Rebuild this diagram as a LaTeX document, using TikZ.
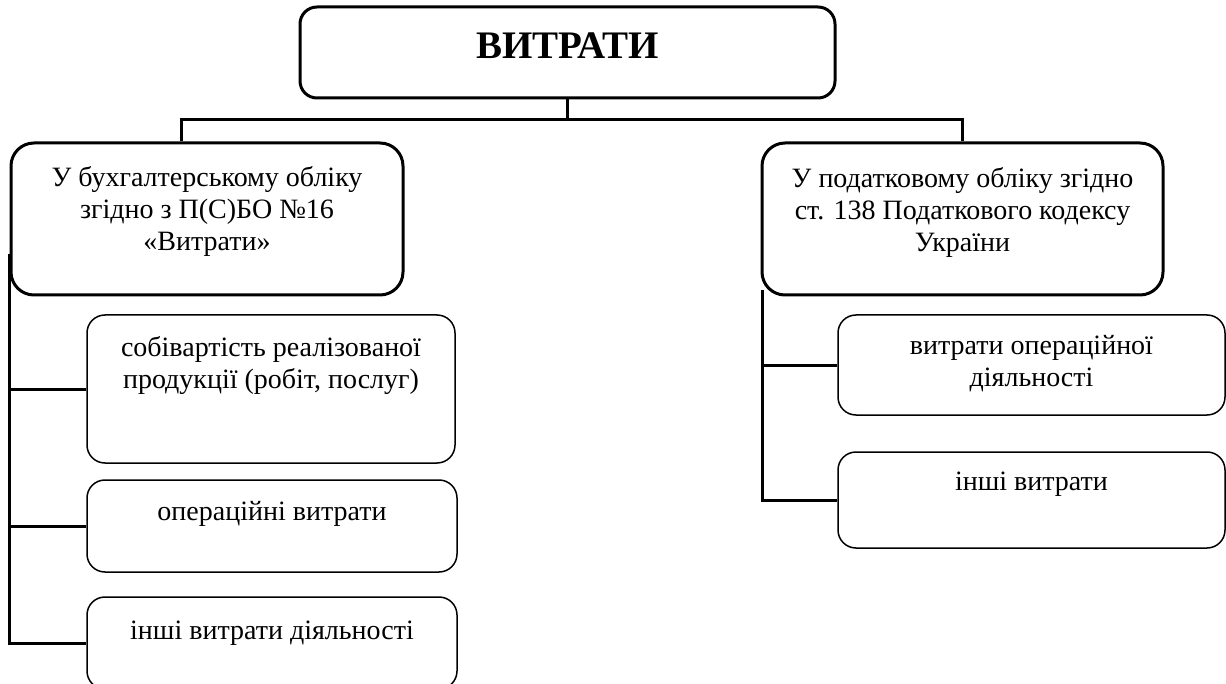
\documentclass[tikz,border=0pt]{standalone}
\usepackage{fontspec}
\setmainfont{Liberation Serif}
\tikzset{
  main box/.style={
    draw,
    rounded corners=8.5pt,
    line width=1.5pt,
    minimum width=267.5pt,
    minimum height=45.5pt,
    text depth=7pt,
    font=\fontsize{19.5}{22}\selectfont\bfseries
  },
  group box/.style={
    draw,
    rounded corners=11.5pt,
    line width=1.5pt,
    minimum height=76pt
  },
  item box/.style={
    draw,
    rounded corners=9pt,
    line width=0.75pt
  },
  box text/.style={
    align=center,
    inner sep=0pt,
    font=\fontsize{14}{16}\selectfont
  },
  link line/.style={
    line width=1.5pt
  }
}
\begin{document}
\begin{tikzpicture}[x=0.5pt, y=-0.5pt]
    \useasboundingbox (0,0) rectangle (1226,684);

    % 1. 顶部总框
    \node[main box] (vytraty) at (567.5, 52.5) {ВИТРАТИ};

    % 2. 第二层：会计核算与税务核算
    \node[group box, minimum width=196pt] (buh) at (207, 219) {};
    \node[box text] (buh-t) at (207, 211) {У бухгалтерському обліку\\згідно з П(С)БО №16\\«Витрати»};
    \node[group box, minimum width=200.5pt] (pod) at (962.5, 219) {};
    \node[box text] (pod-t) at (962.5, 212) {У податковому обліку згідно\\ст. 138 Податкового кодексу\\України};

    % 3. 左侧明细框
    \node[item box, minimum width=184pt, minimum height=74pt] (sob) at (271, 389) {};
    \node[box text] (sob-t) at (271, 365) {собівартість реалізованої\\продукції (робіт, послуг)};
    \node[item box, minimum width=185pt, minimum height=46pt] (oper) at (272, 526) {};
    \node[box text] (oper-t) at (272, 514) {операційні витрати};
    \node[item box, minimum width=185pt, minimum height=46pt] (inshi) at (272, 643) {};
    \node[box text] (inshi-t) at (272, 633) {інші витрати діяльності};

    % 4. 右侧明细框
    \node[item box, minimum width=193.5pt, minimum height=50pt] (oppod) at (1031.5, 365) {};
    \node[box text] (oppod-t) at (1031.5, 364) {витрати операційної\\діяльності};
    \node[item box, minimum width=193.5pt, minimum height=48pt] (inshpod) at (1031.5, 500) {};
    \node[box text] (inshpod-t) at (1031.5, 484) {інші витрати};

    % 5. 连接线
    \draw[link line] (vytraty.south) -- ++(0, 20) coordinate (hub);
    \draw[link line] ([xshift=86pt]buh.north west) |- (hub) -| (pod.north);
    \draw[link line] ([yshift=21pt]buh.south west) coordinate (lspine) |- (inshi.west);
    \draw[link line] (lspine |- sob.west) -- (sob.west);
    \draw[link line] (lspine |- oper.west) -- (oper.west);
    \draw[link line] ([xshift=1pt, yshift=3pt]pod.south west) coordinate (rspine) |- (inshpod.west);
    \draw[link line] (rspine |- oppod.west) -- (oppod.west);

\end{tikzpicture}
\end{document}
